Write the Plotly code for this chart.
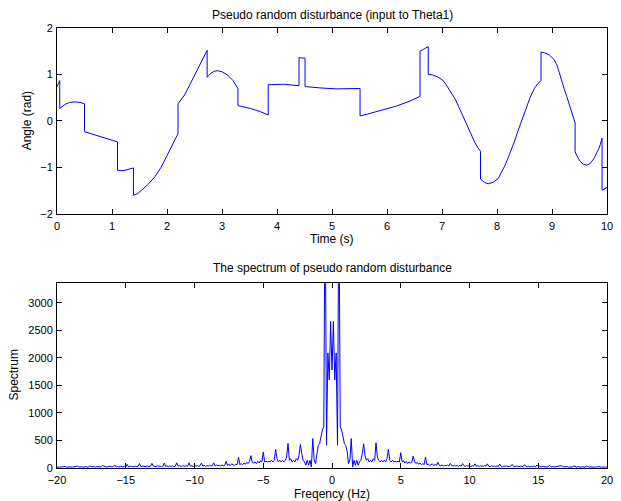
import plotly.graph_objects as go

# ---- Top panel: pseudo random disturbance (time, angle) ----
time_s = [0.00, 0.05, 0.05, 0.10, 0.15, 0.23, 0.32, 0.42, 0.50, 0.50, 0.80, 1.10, 1.10, 1.20, 1.39,
          1.39, 1.47, 1.54, 1.65, 1.78, 1.89, 1.99, 2.10, 2.20,
          2.20, 2.32, 2.41, 2.50, 2.62, 2.73,
          2.73, 2.80, 2.86, 2.92, 3.00, 3.10, 3.20, 3.25, 3.29,
          3.29, 3.52, 3.70, 3.84,
          3.84, 4.12, 4.40, 4.40, 4.51,
          4.51, 4.80, 5.09, 5.51,
          5.51, 5.65, 5.81, 6.00, 6.17, 6.40, 6.60,
          6.60, 6.68, 6.75,
          6.75, 6.83, 6.92, 7.01, 7.07, 7.13, 7.19, 7.25, 7.31, 7.37, 7.43, 7.49, 7.55, 7.60, 7.65, 7.70,
          7.70, 7.77, 7.84, 7.93, 8.02, 8.08, 8.14, 8.20, 8.26, 8.32, 8.38, 8.44, 8.50, 8.55, 8.60, 8.68, 8.74, 8.80,
          8.80, 8.86, 8.95, 9.04, 9.09, 9.13, 9.18, 9.22, 9.27, 9.32, 9.37, 9.42,
          9.42, 9.47, 9.52, 9.57, 9.63, 9.69, 9.76, 9.81, 9.85, 9.88, 9.91,
          9.91, 10.00]
angle_rad = [0.74, 0.87, 0.27, 0.32, 0.36, 0.40, 0.41, 0.40, 0.37, -0.23, -0.34, -0.45, -1.06, -1.07, -1.01,
             -1.60, -1.56, -1.49, -1.37, -1.20, -1.00, -0.77, -0.52, -0.27,
             0.37, 0.56, 0.77, 0.99, 1.28, 1.52,
             0.94, 1.03, 1.07, 1.08, 1.06, 0.99, 0.87, 0.79, 0.70,
             0.33, 0.27, 0.20, 0.13,
             0.78, 0.79, 0.76, 1.36, 1.35,
             0.74, 0.71, 0.69, 0.70,
             0.11, 0.15, 0.20, 0.26, 0.32, 0.42, 0.53,
             1.50, 1.56, 1.60,
             1.00, 0.99, 0.95, 0.88, 0.79, 0.68, 0.57, 0.45, 0.29, 0.13, -0.03, -0.19, -0.35, -0.47, -0.57, -0.65,
             -1.25, -1.32, -1.35, -1.32, -1.24, -1.12, -0.97, -0.80, -0.63, -0.43, -0.22, -0.01, 0.20, 0.36, 0.50, 0.70, 0.80, 0.87,
             1.48, 1.47, 1.42, 1.32, 1.20, 1.05, 0.88, 0.70, 0.52, 0.33, 0.15, -0.04,
             -0.66, -0.79, -0.88, -0.93, -0.95, -0.92, -0.81, -0.71, -0.60, -0.50, -0.37,
             -1.49, -1.43]

# ---- Bottom panel: spectrum, 0.1 Hz bins ----
freq_start = -20.0
freq_step = 0.1
spec_neg = [  # -20.0 .. -0.1 Hz
    15, 20, 15, 15, 20, 15, 30, 15, 20, 15,
    20, 15, 20, 15, 20, 35, 15, 20, 25, 15,
    20, 25, 15, 20, 40, 20, 25, 20, 15, 25,
    20, 25, 20, 45, 30, 25, 20, 25, 20, 30,
    20, 25, 55, 20, 25, 20, 30, 25, 20, 30,
    25, 65, 20, 35, 25, 30, 20, 35, 25, 30,
    80, 25, 30, 35, 25, 30, 35, 25, 30, 85,
    35, 30, 25, 40, 30, 35, 25, 30, 90, 30,
    40, 25, 35, 30, 40, 25, 30, 95, 35, 45,
    30, 35, 40, 30, 45, 30, 95, 35, 40, 30,
    45, 35, 45, 30, 40, 90, 35, 50, 30, 45,
    35, 50, 35, 45, 95, 35, 55, 40, 50, 35,
    55, 40, 50, 120, 50, 65, 45, 75, 60, 45,
    70, 60, 200, 60, 80, 60, 90, 70, 100, 80,
    120, 225, 100, 90, 110, 80, 120, 90, 130, 110,
    290, 110, 120, 110, 120, 110, 140, 110, 140, 340,
    170, 110, 140, 110, 140, 110, 140, 200, 445, 140,
    170, 110, 140, 110, 170, 140, 230, 427, 260, 140,
    110, 50, 140, 50, 140, 20, 535, 150, 80, 300,
    410, 445, 570, 690, 750, 5200, 414, 2090, 1600, 2660,
]
spec_pos = [  # 0.0 .. 20.0 Hz
    1780, 2660, 1600, 2090, 414, 5200, 750, 690, 570, 445,
    410, 300, 80, 150, 535, 20, 140, 50, 140, 50,
    110, 140, 260, 440, 230, 140, 170, 110, 140, 110,
    170, 140, 460, 200, 140, 110, 140, 110, 140, 110,
    170, 340, 140, 110, 140, 110, 120, 110, 120, 110,
    280, 110, 130, 90, 120, 80, 110, 90, 100, 215,
    120, 80, 100, 70, 90, 60, 80, 60, 200, 60,
    70, 45, 60, 75, 45, 65, 50, 105, 50, 40,
    55, 35, 50, 40, 55, 35, 85, 45, 35, 50,
    35, 45, 30, 50, 35, 80, 40, 30, 45, 35,
    45, 30, 40, 35, 75, 30, 45, 30, 40, 35,
    30, 45, 35, 75, 30, 25, 40, 30, 35, 25,
    40, 30, 70, 30, 25, 35, 30, 40, 25, 30,
    35, 65, 30, 25, 35, 30, 25, 35, 30, 25,
    60, 30, 25, 35, 20, 30, 25, 35, 20, 55,
    25, 30, 20, 25, 30, 20, 25, 20, 50, 25,
    20, 30, 20, 25, 20, 25, 30, 45, 20, 25,
    20, 25, 15, 20, 25, 20, 40, 20, 15, 25,
    20, 15, 25, 20, 15, 35, 20, 15, 20, 15,
    20, 15, 20, 15, 30, 15, 20, 15, 15, 20,
    15,
]

time_ticks = [0, 1, 2, 3, 4, 5, 6, 7, 8, 9, 10]
angle_ticks = [-2, -1, 0, 1, 2]
freq_ticks = [-20, -15, -10, -5, 0, 5, 10, 15, 20]
spec_ticks = [0, 500, 1000, 1500, 2000, 2500, 3000]

BLUE = "#0000ff"
FONT = "Liberation Sans, Arial, Helvetica, sans-serif"
FS = 12
TFS = 11

fig = go.Figure()
fig.add_trace(go.Scatter(x=time_s, y=angle_rad, mode="lines",
                         line=dict(color=BLUE, width=1), xaxis="x", yaxis="y",
                         showlegend=False, hoverinfo="skip"))
fig.add_trace(go.Scatter(y=spec_neg + spec_pos, x0=freq_start, dx=freq_step, mode="lines",
                         line=dict(color=BLUE, width=1), xaxis="x2", yaxis="y2",
                         showlegend=False, hoverinfo="skip"))

axis_common = dict(showline=True, linecolor="black", linewidth=1, mirror="ticks",
                   ticks="inside", ticklen=5, tickwidth=1, tickcolor="black",
                   showgrid=False, zeroline=False,
                   tickfont=dict(family=FONT, size=TFS, color="black"))

fig.update_layout(
    width=621, height=501,
    margin=dict(l=57, r=8, t=28, b=33),
    paper_bgcolor="white", plot_bgcolor="white",
    font=dict(family=FONT, size=FS, color="black"),
    xaxis=dict(domain=[0, 1], anchor="y", range=[0, 10], tickvals=time_ticks,
               ticklabelstandoff=2, **axis_common),
    yaxis=dict(domain=[0.5773, 1], anchor="x", range=[-2, 2], tickvals=angle_ticks,
               ticklabelstandoff=1, **axis_common),
    xaxis2=dict(domain=[0, 1], anchor="y2", range=[-20, 20], tickvals=freq_ticks,
                ticklabelstandoff=2, **axis_common),
    yaxis2=dict(domain=[0, 0.4205], anchor="x2", range=[0, 3360], tickvals=spec_ticks,
                ticklabelstandoff=1, **axis_common),
    annotations=[
        dict(text="Pseudo random disturbance (input to Theta1)", x=0.5, y=1.0295,
             xref="paper", yref="paper", showarrow=False, xanchor="center", yanchor="middle",
             font=dict(size=FS)),
        dict(text="Time (s)", x=0.5, y=0.5205, xref="paper", yref="paper", showarrow=False,
             xanchor="center", yanchor="middle", font=dict(size=FS)),
        dict(text="Angle (rad)", x=-0.054, y=0.7886, xref="paper", yref="paper", showarrow=False,
             xanchor="center", yanchor="middle", textangle=-90, font=dict(size=FS)),
        dict(text="The spectrum of pseudo random disturbance", x=0.5, y=0.4545,
             xref="paper", yref="paper", showarrow=False, xanchor="center", yanchor="middle",
             font=dict(size=FS)),
        dict(text="Spectrum", x=-0.0791, y=0.2114, xref="paper", yref="paper", showarrow=False,
             xanchor="center", yanchor="middle", textangle=-90, font=dict(size=FS)),
        dict(text="Freqency (Hz)", x=0.5, y=-0.077, xref="paper", yref="paper", showarrow=False,
             xanchor="center", yanchor="bottom", borderpad=0, font=dict(size=FS)),
    ],
)

fig.write_html("out.html")
